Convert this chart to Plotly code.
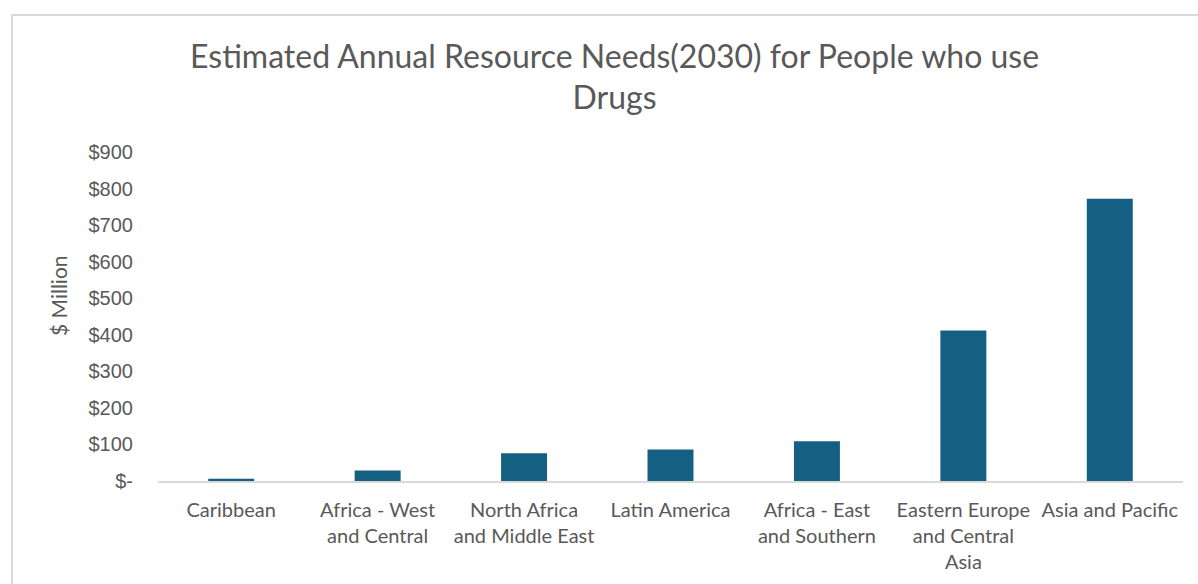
import plotly.graph_objects as go

categories = ["Caribbean", "Africa - West and Central", "North Africa and Middle East",
              "Latin America", "Africa - East and Southern", "Eastern Europe and Central Asia",
              "Asia and Pacific"]
tick_labels = ["Caribbean", "Africa - West<br>and Central", "North Africa<br>and Middle East",
               "Latin America", "Africa - East<br>and Southern", "Eastern Europe<br>and Central<br>Asia",
               "Asia and Pacific"]
values = [6, 29, 76, 86, 109, 412, 772]
y_tickvals = [0, 100, 200, 300, 400, 500, 600, 700, 800, 900]
y_ticktext = ["$-", "$100", "$200", "$300", "$400", "$500", "$600", "$700", "$800", "$900"]

TXT = "#595959"
FONT = "Lato, Open Sans, sans-serif"

fig = go.Figure(go.Bar(x=categories, y=values, marker=dict(color="#156082", line=dict(width=0)),
                       hoverinfo="x+y"))

fig.update_layout(
    width=1198, height=584,
    margin=dict(l=158, r=15, t=152, b=103),
    paper_bgcolor="white", plot_bgcolor="white",
    bargap=0.686,
    showlegend=False,
    title=dict(text="Estimated Annual Resource Needs(2030) for People who use<br>Drugs",
               x=0.513, xanchor="center", y=0.884, yanchor="top",
               font=dict(family=FONT, size=32, color=TXT)),
    font=dict(family=FONT, color=TXT),
)
fig.update_xaxes(
    tickvals=categories, ticktext=tick_labels,
    tickfont=dict(family=FONT, size=20, color=TXT),
    showline=True, linecolor="#d9d9d9", linewidth=2,
    showgrid=False, ticks="outside", ticklen=10, tickcolor="rgba(0,0,0,0)",
)
fig.update_yaxes(
    range=[0, 900], tickvals=y_tickvals, ticktext=y_ticktext,
    tickfont=dict(family="Liberation Sans, Arial, sans-serif", size=20, color=TXT),
    showgrid=False, zeroline=False, showline=False,
    ticks="outside", ticklen=20, tickcolor="rgba(0,0,0,0)",
)
fig.add_annotation(text="$ Million", xref="paper", yref="paper",
                   x=(58 - 158) / 1025, y=(481 - 296) / 329, xanchor="center", yanchor="middle",
                   textangle=-90, showarrow=False,
                   font=dict(family=FONT, size=21, color=TXT))
fig.add_shape(type="rect", xref="paper", yref="paper",
              x0=(12 - 158) / 1025, x1=1.1, y0=-0.6, y1=(481 - 15) / 329,
              line=dict(color="#d9d9d9", width=2), fillcolor="rgba(0,0,0,0)", layer="below")

fig.write_html("out.html")
